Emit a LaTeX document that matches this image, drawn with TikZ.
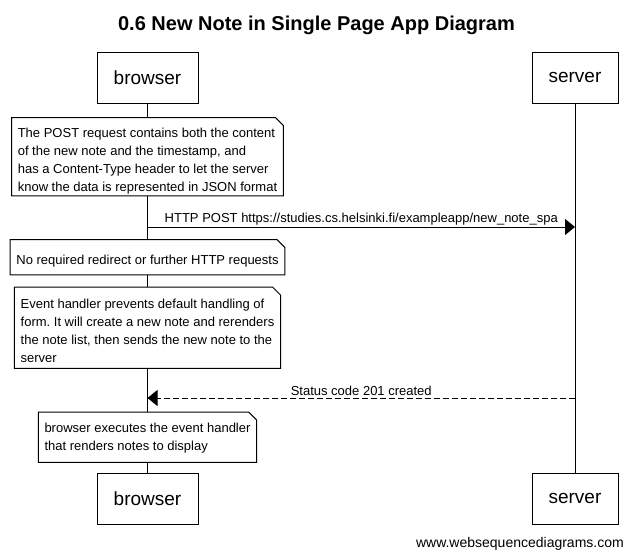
\documentclass[tikz,border=0pt]{standalone}
\usepackage{fontspec}
\setmainfont{Liberation Sans}
\frenchspacing
\usetikzlibrary{arrows.meta}
\newcommand\topgap[1][17.5pt]{\rule{0pt}{#1}}
\newcommand\dognote[1]{%
  \draw[noteline] (#1.south west) -- (#1.north west) -- ([xshift=-8pt]#1.north east)
    -- ([yshift=-8pt]#1.north east) -- (#1.south east) -- cycle;}
\begin{document}
\begin{tikzpicture}[x=1pt,y=-1pt,
  actor/.style={draw, line width=1pt, minimum height=51pt, inner xsep=0pt, inner ysep=0pt,
    font=\fontsize{19}{22}\selectfont},
  life/.style={line width=1pt},
  note/.style={fill=white, inner xsep=6pt, inner ysep=0pt, align=left, anchor=north,
    font=\fontsize{13}{18}\selectfont},
  noteline/.style={line width=1pt},
  msg/.style={line width=1pt, -{Triangle[length=10pt,width=16pt]}},
  reply/.style={msg, dash pattern=on 6pt off 3pt},
  lbl/.style={font=\fontsize{13}{15}\selectfont, inner sep=1.5pt}]
\useasboundingbox (0,0) rectangle (633,557);
\node[font=\bfseries\fontsize{20}{24}\selectfont, anchor=base] (title) at (316.5,30)
  {0.6 New Note in Single Page App Diagram};
% actors
\node[actor, minimum width=101pt] (bt) at (147.5,77.5) {browser};
\node[actor, minimum width=86pt] (st) at (575,77.5) {server};
\node[actor, minimum width=101pt] (bb) at (147.5,498.5) {browser};
\node[actor, minimum width=86pt] (sb) at (575,498.5) {server};
\draw[life] (bt) -- (bb);
\draw[life] (st) -- (sb);
% note 1
\node[note, minimum height=78pt] (n1) at (147.5,117.5)
  {\topgap The POST request contains both the content\\of the new note and the timestamp, and\\has a Content-Type header to let the server\\know the data is represented in JSON format};
\dognote{n1}
% message 1
\coordinate (m1a) at (147.5,227);
\coordinate (m1b) at (575,227);
\draw[msg] (m1a) -- (m1b) node[midway, above, lbl]
  {HTTP POST https://studies.cs.helsinki.fi/exampleapp/new\_note\_spa};
% note 2
\node[note, minimum height=35pt] (n2) at (147.5,239.5)
  {\topgap No required redirect or further HTTP requests};
\dognote{n2}
% note 3
\node[note, minimum height=81pt] (n3) at (147.5,287)
  {\topgap[16pt]Event handler prevents default handling of\\form. It will create a new note and rerenders\\the note list, then sends the new note to the\\server};
\dognote{n3}
% reply
\coordinate (m2a) at (575,398);
\coordinate (m2b) at (147.5,398);
\draw[reply] (m2a) -- (m2b) node[midway, above, lbl] {Status code 201 created};
% note 4
\node[note, minimum height=50pt] (n4) at (147.5,412)
  {\topgap[11.5pt]browser executes the event handler\\that renders notes to display};
\dognote{n4}
% watermark
\node[font=\fontsize{14}{16}\selectfont, anchor=base east, inner sep=0pt] (wm) at (624,547)
  {www.websequencediagrams.com};
\end{tikzpicture}
\end{document}
